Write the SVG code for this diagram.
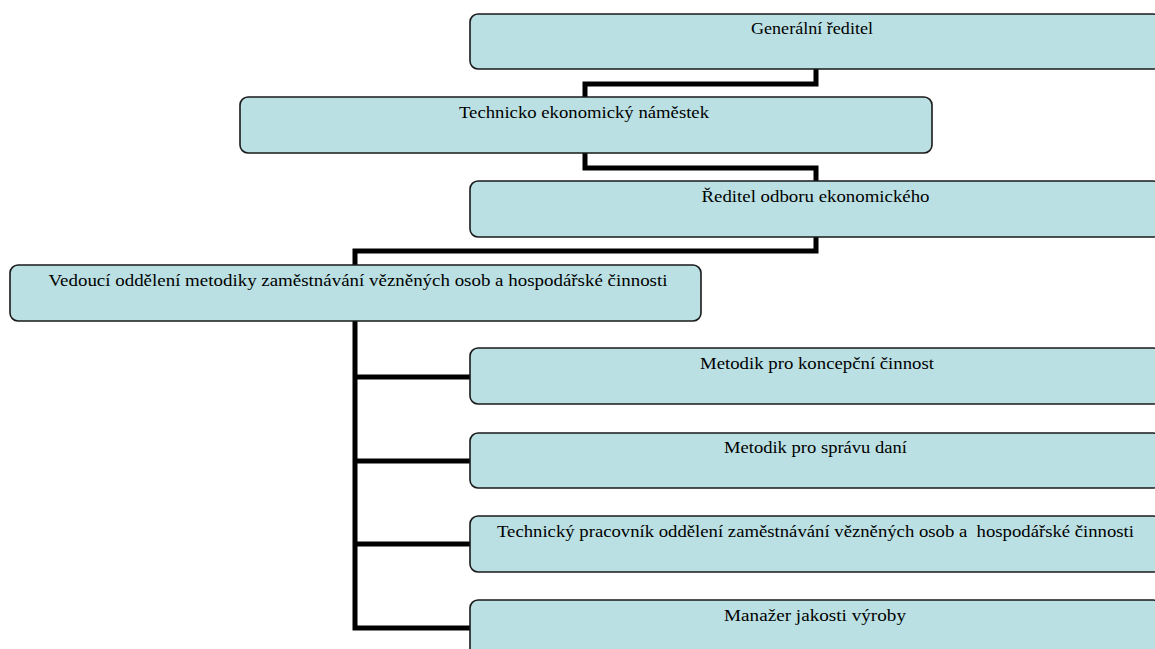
<svg xmlns="http://www.w3.org/2000/svg" width="1155" height="649" viewBox="0 0 1155 649">
  <style>
    .box { fill: #bbe0e3; stroke: #1a1a1a; stroke-width: 1.6; }
    .lbl { font-family: "Liberation Serif", "Times New Roman", serif; font-size: 16.5px; fill: #000; text-anchor: middle; }
    .link { fill: none; stroke: #000; stroke-width: 5; stroke-linejoin: miter; }
  </style>
  <rect width="1155" height="649" fill="#fff"/>

  <!-- connectors -->
  <g id="connectors">
    <path class="link" d="M816,69 V84 H585 V97"/>
    <path class="link" d="M585,153 V168 H816 V181"/>
    <path class="link" d="M816,237 V251 H355 V265"/>
    <path class="link" d="M355,321 V628 H470"/>
    <path class="link" d="M355,377 H470"/>
    <path class="link" d="M355,461 H470"/>
    <path class="link" d="M355,544 H470"/>
  </g>

  <g id="generalni-reditel">
    <rect class="box" x="470" y="14" width="691" height="55" rx="8"/>
    <text class="lbl" x="812" y="34" textLength="122" lengthAdjust="spacingAndGlyphs">Generální ředitel</text>
  </g>

  <g id="technicko-ekonomicky-namestek">
    <rect class="box" x="240" y="97" width="692" height="56" rx="8"/>
    <text class="lbl" x="584" y="118" textLength="250" lengthAdjust="spacingAndGlyphs">Technicko ekonomický náměstek</text>
  </g>

  <g id="reditel-odboru-ekonomickeho">
    <rect class="box" x="470" y="181" width="691" height="56" rx="8"/>
    <text class="lbl" x="815.5" y="202" textLength="228" lengthAdjust="spacingAndGlyphs">Ředitel odboru ekonomického</text>
  </g>

  <g id="vedouci-oddeleni">
    <rect class="box" x="10" y="265" width="691" height="56" rx="8"/>
    <text class="lbl" x="358" y="286" textLength="619" lengthAdjust="spacingAndGlyphs">Vedoucí oddělení metodiky zaměstnávání vězněných osob a hospodářské činnosti</text>
  </g>

  <g id="metodik-koncepce">
    <rect class="box" x="470" y="348" width="691" height="56" rx="8"/>
    <text class="lbl" x="817" y="369" textLength="234" lengthAdjust="spacingAndGlyphs">Metodik pro koncepční činnost</text>
  </g>

  <g id="metodik-dane">
    <rect class="box" x="470" y="433" width="691" height="55" rx="8"/>
    <text class="lbl" x="815.5" y="453" textLength="183" lengthAdjust="spacingAndGlyphs">Metodik pro správu daní</text>
  </g>

  <g id="technicky-pracovnik">
    <rect class="box" x="470" y="516" width="691" height="56" rx="8"/>
    <text class="lbl" x="815.5" y="537" textLength="637" lengthAdjust="spacingAndGlyphs" xml:space="preserve">Technický pracovník oddělení zaměstnávání vězněných osob a  hospodářské činnosti</text>
  </g>

  <g id="manazer-jakosti">
    <rect class="box" x="470" y="600" width="691" height="56" rx="8"/>
    <text class="lbl" x="815" y="621" textLength="182" lengthAdjust="spacingAndGlyphs">Manažer jakosti výroby</text>
  </g>
</svg>
